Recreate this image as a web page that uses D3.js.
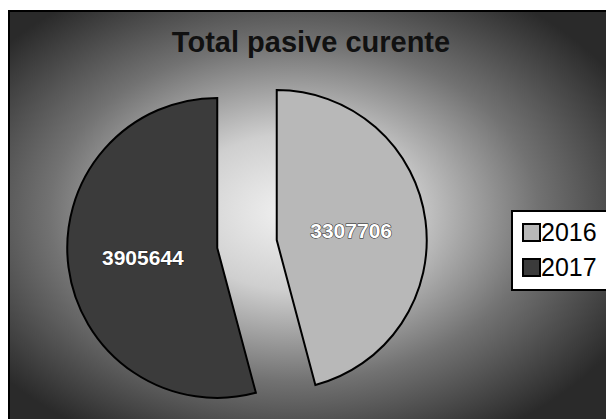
<!DOCTYPE html>
<html>
<head>
<meta charset="utf-8">
<script src="https://cdn.jsdelivr.net/npm/d3@7/dist/d3.min.js"></script>
<style>
	body { margin: 0; background: #fff; }
	svg text { font-family: 'Liberation Sans', Arial, sans-serif; }
</style>
</head>
<body>
<div id="chart_div"></div>
<script>
// chart data
var years = ['2016', '2017'];
var values = [3307706, 3905644];
var slice_fills = ['#b8b8b8', '#3b3b3b'];
var chart_title = 'Total pasive curente';

var width = 606;
var height = 419;

var svg = d3
	.select('#chart_div')
	.append('svg')
	.attr('width', width)
	.attr('height', height);

var defs = svg.append('defs');

// background - light in the middle, dark at the edges
var bg_gradient = defs
	.append('radialGradient')
	.attr('id', 'bg-gradient')
	.attr('cx', '47%')
	.attr('cy', '48%')
	.attr('r', '62%');
bg_gradient.append('stop').attr('offset', '0%').attr('stop-color', '#f2f2f2');
bg_gradient.append('stop').attr('offset', '30%').attr('stop-color', '#cfcfcf');
bg_gradient.append('stop').attr('offset', '65%').attr('stop-color', '#727272');
bg_gradient.append('stop').attr('offset', '100%').attr('stop-color', '#2a2a2a');

svg.append('rect')
	.attr('x', 9)
	.attr('y', 11)
	.attr('width', width)
	.attr('height', height)
	.attr('fill', 'url(#bg-gradient)')
	.attr('stroke', '#000')
	.attr('stroke-width', 2);

svg.append('text')
	.attr('x', 311)
	.attr('y', 52)
	.attr('text-anchor', 'middle')
	.attr('font-size', 29)
	.attr('font-weight', 'bold')
	.attr('fill', '#111')
	.text(chart_title);

// exploded pie
var pie_data = years.map(function (y, i) {
	return { year: y, value: values[i], fill: slice_fills[i] };
});

var radius = 150;
var explode = 30;
var pie_center = [247, 244];

var pie = d3
	.pie()
	.sort(null)
	.value((d) => d.value);

var arc = d3.arc().innerRadius(0).outerRadius(radius);

var slices = svg
	.append('g')
	.attr('transform', 'translate(' + pie_center[0] + ',' + pie_center[1] + ')')
	.selectAll('.slice')
	.data(pie(pie_data))
	.enter()
	.append('g')
	.attr('class', 'slice')
	.attr('transform', function (d) {
		var mid = (d.startAngle + d.endAngle) / 2;
		return 'translate(' + Math.sin(mid) * explode + ',' + -Math.cos(mid) * explode + ')';
	});

slices
	.append('path')
	.attr('d', arc)
	.attr('fill', (d) => d.data.fill)
	.attr('stroke', '#000')
	.attr('stroke-width', 2);

slices
	.append('text')
	.attr('transform', function (d) {
		var c = arc.centroid(d);
		return 'translate(' + c[0] + ',' + c[1] + ')';
	})
	.attr('dy', '0.35em')
	.attr('text-anchor', 'middle')
	.attr('font-size', 21)
	.attr('font-weight', 'bold')
	.attr('fill', '#fff')
	.attr('stroke', '#222')
	.attr('stroke-width', 1)
	.attr('paint-order', 'stroke')
	.text((d) => d.data.value);

// legend
var legend = svg.append('g').attr('transform', 'translate(512,211)');

legend
	.append('rect')
	.attr('width', 110)
	.attr('height', 79)
	.attr('fill', '#fff')
	.attr('stroke', '#000')
	.attr('stroke-width', 2);

var legend_item = legend
	.selectAll('.legend_item')
	.data(pie_data)
	.enter()
	.append('g')
	.attr('class', 'legend_item')
	.attr('transform', (d, i) => 'translate(11,' + (13 + i * 35) + ')');

legend_item
	.append('rect')
	.attr('width', 17)
	.attr('height', 17)
	.attr('fill', (d) => d.fill)
	.attr('stroke', '#000')
	.attr('stroke-width', 2);

legend_item
	.append('text')
	.attr('x', 18)
	.attr('y', 17)
	.attr('font-size', 25)
	.attr('fill', '#000')
	.text((d) => d.year);
</script>
</body>
</html>
